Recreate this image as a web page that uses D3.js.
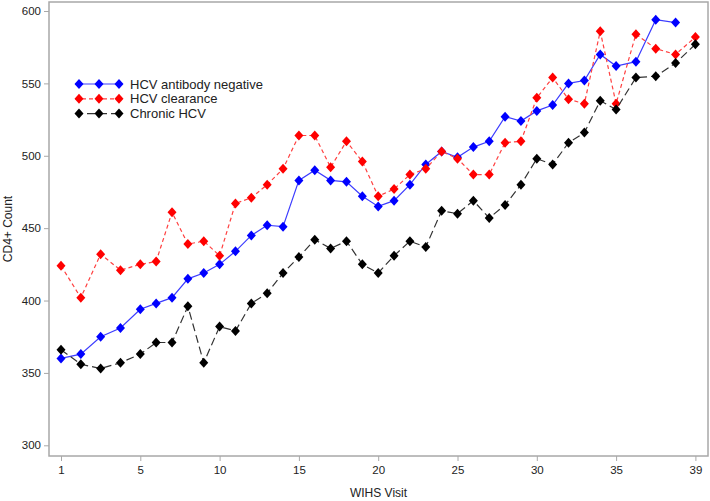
<!DOCTYPE html>
<html>
<head>
<meta charset="utf-8">
<script src="https://cdn.jsdelivr.net/npm/d3@7"></script>
<style>
  body { margin: 0; background: #fff; }
  text { font-family: "Liberation Sans", Arial, sans-serif; fill: #222; }
</style>
</head>
<body>
<div class="canvas"></div>
<script>
const dims = { width: 710, height: 501 };
const frame = { left: 49, right: 708, top: 2, bottom: 456 };

// visits and tick labels
const visits = d3.range(1, 40);
const xTicks = [1, 5, 10, 15, 20, 25, 30, 35, 39];
const yTicks = [300, 350, 400, 450, 500, 550, 600];

// CD4+ count per visit
const hcvNegative = [360, 363, 375, 381, 394, 398, 402, 415, 419, 425,
    434, 445, 452, 451, 483, 490, 483, 482, 472, 465,
    469, 480, 494, 503, 499, 506, 510, 527, 524, 531,
    535, 550, 552, 570, 562, 565, 594, 592];
const hcvClearance = [424, 402, 432, 421, 425, 427, 461, 439, 441, 431,
    467, 471, 480, 491, 514, 514, 492, 510, 496, 472,
    477, 487, 491, 503, 498, 487, 487, 509, 510, 540,
    554, 539, 536, 586, 536, 584, 574, 570, 582];
const chronicHcv = [366, 356, 353, 357, 363, 371, 371, 396, 357, 382,
    379, 398, 405, 419, 430, 442, 436, 441, 425, 419,
    431, 441, 437, 462, 460, 469, 457, 466, 480, 498,
    494, 509, 516, 538, 532, 554, 555, 564, 577];

const series = [
    { name: 'HCV antibody negative', values: hcvNegative, color: '#0000ff', line: '#3c3cff', dash: null },
    { name: 'HCV clearance', values: hcvClearance, color: '#ff0000', line: '#ff4040', dash: '4,3' },
    { name: 'Chronic HCV', values: chronicHcv, color: '#000000', line: '#333333', dash: '8,4' }
];

const svg = d3.select('.canvas')
    .append('svg')
    .attr('width', dims.width)
    .attr('height', dims.height);

// x axis: tick labels are evenly spaced, visits placed between them
const x = d3.scaleLinear()
    .domain(xTicks)
    .range(xTicks.map((d, i) => 61 + i * 79.3));

const y = d3.scaleLinear()
    .domain([300, 600])
    .range([445.3, 11]);

svg.append('rect')
    .attr('x', frame.left)
    .attr('y', frame.top)
    .attr('width', frame.right - frame.left)
    .attr('height', frame.bottom - frame.top)
    .attr('fill', 'none')
    .attr('stroke', '#a8a8a8')
    .attr('stroke-width', 1.5);

const xAxis = svg.append('g')
    .attr('transform', `translate(0, ${frame.bottom})`)
    .call(d3.axisBottom(x).tickValues(xTicks).tickSize(5).tickPadding(5).tickFormat(d3.format('d')));

const yAxis = svg.append('g')
    .attr('transform', `translate(${frame.left}, 0)`)
    .call(d3.axisLeft(y).tickValues(yTicks).tickSize(5).tickPadding(3).tickFormat(d3.format('d')));

[xAxis, yAxis].forEach(ax => {
    ax.select('.domain').remove();
    ax.selectAll('line').attr('stroke', '#a8a8a8');
    ax.selectAll('text')
        .style('font-family', '"Liberation Sans", Arial, sans-serif')
        .style('font-size', '11.5px')
        .attr('fill', '#222');
});

svg.append('text')
    .attr('x', (frame.left + frame.right) / 2)
    .attr('y', 497)
    .attr('text-anchor', 'middle')
    .style('font-size', '12px')
    .text('WIHS Visit');

svg.append('text')
    .attr('transform', `translate(12, ${(frame.top + frame.bottom) / 2}) rotate(-90)`)
    .attr('text-anchor', 'middle')
    .style('font-size', '12px')
    .text('CD4+ Count');

const line = d3.line()
    .x((d, i) => x(visits[i]))
    .y(d => y(d));

const diamond = (cx, cy) => `M${cx},${cy - 5}L${cx + 4.5},${cy}L${cx},${cy + 5}L${cx - 4.5},${cy}Z`;

const graph = svg.append('g');

series.forEach(s => {
    graph.append('path')
        .datum(s.values)
        .attr('d', line)
        .attr('fill', 'none')
        .attr('stroke', s.line)
        .attr('stroke-width', 1.2)
        .attr('stroke-dasharray', s.dash);

    graph.selectAll(null)
        .data(s.values)
        .enter()
        .append('path')
            .attr('d', (d, i) => diamond(x(visits[i]), y(d)))
            .attr('fill', s.color);
});

// legend
const legend = svg.append('g');
series.forEach((s, i) => {
    const ly = 84 + i * 14.8;
    legend.append('line')
        .attr('x1', 75).attr('x2', 122)
        .attr('y1', ly).attr('y2', ly)
        .attr('stroke', s.line)
        .attr('stroke-width', 1.2)
        .attr('stroke-dasharray', s.dash);
    [79, 99, 119].forEach(mx => {
        legend.append('path')
            .attr('d', diamond(mx, ly))
            .attr('fill', s.color);
    });
    legend.append('text')
        .attr('x', 130)
        .attr('y', ly + 4.5)
        .style('font-size', '13px')
        .text(s.name);
});
</script>
</body>
</html>
